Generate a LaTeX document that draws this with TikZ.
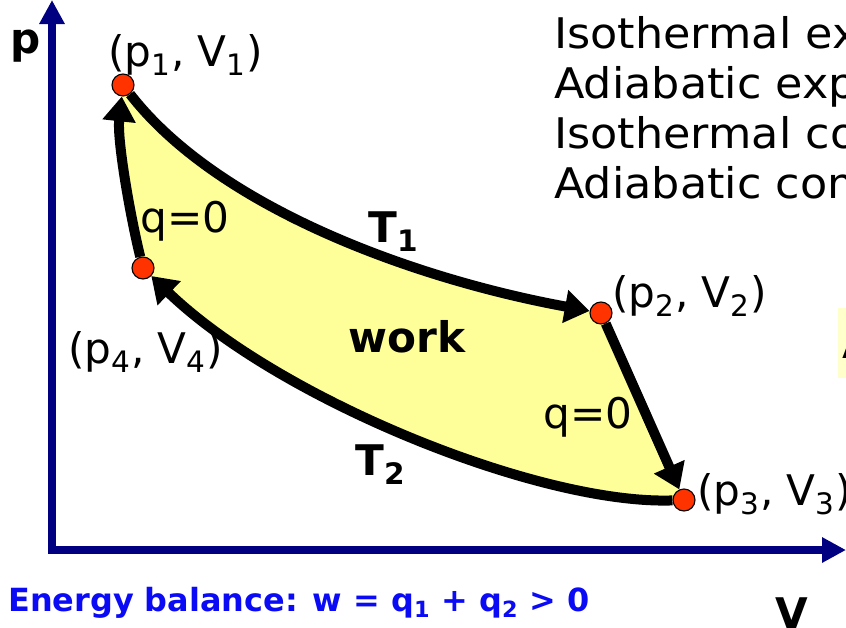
\documentclass[tikz,border=0pt]{standalone}
\usepackage{fontspec}
\setmainfont{DejaVu Sans}
\newfontfamily\widefont[FakeStretch=1.055]{DejaVu Sans}
\usetikzlibrary{arrows.meta}

\definecolor{axisblue}{RGB}{0,0,128}
\definecolor{dotred}{RGB}{255,51,0}
\definecolor{workyellow}{RGB}{255,255,153}
\definecolor{boxyellow}{RGB}{255,255,204}
\definecolor{noteblue}{RGB}{10,10,245}
\newcommand{\bigtext}{\fontsize{30}{36}\selectfont}
\newcommand{\notetext}{\fontsize{22.7}{27}\selectfont\bfseries}

\pgfdeclarelayer{background}
\pgfdeclarelayer{foreground}
\pgfsetlayers{background,main,foreground}

\begin{document}
\begin{tikzpicture}[
    x=0.025cm, y=-0.025cm, % one unit = one pixel, y runs down
    >={Triangle[length=0.62cm, width=0.8cm]}, % heads of the cycle arrows
    axisline/.style={line width=0.19cm, axisblue},
    cycleline/.style={line width=0.25cm, ->},
    dot/.style={circle, fill=dotred, draw=black, line width=0.8pt, minimum size=0.55cm, inner sep=0pt},
    lbl/.style={anchor=base west, inner sep=0pt, font=\bigtext}
]
    \useasboundingbox (0,0) rectangle (846,627);
    \clip (0,0) rectangle (846,627);

    % Axes
    \coordinate (O) at (52,550);
    \coordinate (ptop) at (52,0);
    \coordinate (vend) at (846,550);
    \draw[axisline, {Triangle[length=0.6cm, width=0.6cm]}-{Triangle[length=0.6cm, width=0.6cm]}] (ptop) -- (O) -- (vend);
    \node[lbl, font=\bigtext\bfseries] (plabel) at (10,53) {p};
    \node[lbl, font=\bigtext\bfseries] (vlabel) at (775,628) {V};

    % State points
    \begin{pgfonlayer}{foreground}
        \node[dot] (p1) at (123,85) {};
        \node[dot] (p2) at (601,313) {};
        \node[dot] (p3) at (684,500) {};
        \node[dot] (p4) at (143,268) {};
    \end{pgfonlayer}

    % Work area
    \begin{pgfonlayer}{background}
        \fill[workyellow] (p1.center) .. controls (220,210) and (420,280) .. (p2.center)
            -- (p3.center) .. controls (540,505) and (280,400) .. (p4.center)
            .. controls (130,215) and (117,140) .. cycle;
    \end{pgfonlayer}

    % Cycle
    \draw[cycleline] (p1) .. controls (220,210) and (420,280) .. (p2); % isothermal expansion
    \draw[cycleline] (p2) -- (p3); % adiabatic expansion
    \draw[cycleline] (p3) .. controls (540,505) and (280,400) .. (p4); % isothermal compression
    \draw[cycleline] (p4) .. controls (130,215) and (117,140) .. (p1); % adiabatic compression

    % Point labels
    \node[lbl] (p1label) at (108,66) {(p\textsubscript{1}, V\textsubscript{1})};
    \node[lbl] (p2label) at (612,307) {(p\textsubscript{2}, V\textsubscript{2})};
    \node[lbl] (p3label) at (697,505) {(p\textsubscript{3}, V\textsubscript{3})};
    \node[lbl] (p4label) at (68,363) {(p\textsubscript{4}, V\textsubscript{4})};

    % Path labels
    \node[lbl] (qleft) at (140,232) {q=0};
    \node[lbl] (qright) at (543,428) {q=0};
    \node[lbl, font=\bigtext\bfseries] (t1label) at (368,242) {T\textsubscript{1}};
    \node[lbl, font=\bigtext\bfseries] (t2label) at (355,475) {T\textsubscript{2}};
    \node[lbl, font=\bigtext\bfseries] (worklabel) at (348,352) {work};

    % Steps of the cycle
    \foreach \step [count=\i] in {Isothermal expansion, Adiabatic expansion, Isothermal compression, Adiabatic compression}
        \node[lbl, font=\widefont\bigtext] (step\i) at (554,{48+50*(\i-1)}) {\step};

    % Box at the right edge
    \node[fill=boxyellow, anchor=west, inner xsep=0.1cm, minimum height=1.75cm, font=\bigtext] (cyclebox) at (838,343) {ΔU = 0};

    % Energy balance
    \node[lbl, font=\notetext, text=noteblue] (balance) at (8,611) {Energy balance: w = q\textsubscript{1} + q\textsubscript{2} > 0};

\end{tikzpicture}
\end{document}
